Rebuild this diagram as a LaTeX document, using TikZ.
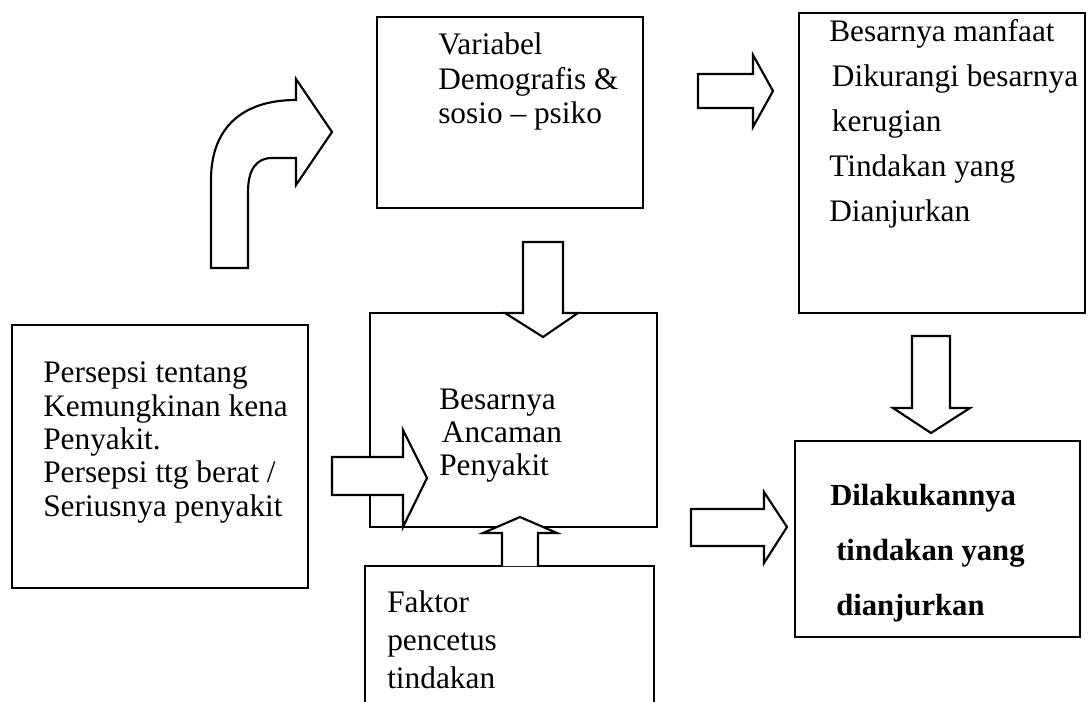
\documentclass[tikz,border=0pt]{standalone}
\usepackage{fontspec}
\setmainfont{Liberation Serif}
\usetikzlibrary{fit}
\begin{document}
\begin{tikzpicture}[x=0.75pt,y=-0.75pt,
  box/.style={draw, line width=1.6pt, inner sep=0pt, outer sep=0pt},
  heavybox/.style={box, line width=2.2pt},
  label/.style={anchor=base west, inner sep=0pt, align=left},
  blockarrow/.style={draw, fill=white, line width=1.6pt, line join=miter},
]
\useasboundingbox (0,0) rectangle (1088,702);
\fill[white] (0,0) rectangle (1088,702);

% boxes of the model
\node[box, fit={(377,17) (643,208)}] (var) {};
\node[box, fit={(799,13) (1085,313)}] (manfaat) {};
\node[box, fit={(12,325) (308,588)}] (persepsi) {};
\node[heavybox, fit={(370,313) (657,527)}] (ancaman) {};
\node[box, fit={(365,566) (654,730)}] (faktor) {};
\node[heavybox, fit={(795,441) (1080,637)}] (aksi) {};

% texts inside the boxes (placed by the baseline of their last line)
\node[label, font={\fontsize{23.5}{25.9}\selectfont}] (vartext) at (438,124)
  {Variabel\\Demografis \&\\sosio – psiko};
\node[label, font={\fontsize{23.5}{33.75}\selectfont}] (manfaattext) at (829,222)
  {Besarnya manfaat\\\hspace{2pt}Dikurangi besarnya\\\hspace{2pt}kerugian\\Tindakan yang\\Dianjurkan};
\node[label, font={\fontsize{23.5}{25}\selectfont}] (persepsitext) at (43,516)
  {Persepsi tentang\\Kemungkinan kena\\Penyakit.\\Persepsi ttg berat /\\Seriusnya penyakit};
\node[label, font={\fontsize{23.5}{24.4}\selectfont}] (ancamantext) at (439,475)
  {Besarnya\\\hspace{2pt}Ancaman\\Penyakit};
\node[label, font={\fontsize{23.5}{28.5}\selectfont}] (faktortext) at (387,688)
  {Faktor\\pencetus\\tindakan};
\node[label, font={\fontsize{23}{40.9}\selectfont\bfseries}] (aksitext) at (830,615)
  {Dilakukannya\\\hspace{4.5pt}tindakan yang\\\hspace{4.5pt}dianjurkan};

% curved block arrow rising towards the demographic box
\draw[blockarrow] (211,268) -- (211,180) .. controls (211,128) and (242,100) .. (296,100)
  -- (296,79) -- (332,132) -- (296,185) -- (296,158) -- (272,158)
  .. controls (256,158) and (248,170) .. (248,192) -- (248,268) -- cycle;

% var -> manfaat
\draw[blockarrow] (698,74) -- (753,74) -- (753,55) -- (773,91) -- (753,127)
  -- (753,108) -- (698,108) -- cycle;

% var -> ancaman
\draw[blockarrow] (523,242) -- (563,242) -- (563,313) -- (578,313) -- (543,337)
  -- (505,313) -- (523,313) -- cycle;

% persepsi -> ancaman
\draw[blockarrow] (332,457) -- (403,457) -- (403,430) -- (427,478) -- (403,527)
  -- (403,495) -- (332,495) -- cycle;

% faktor -> ancaman
\draw[blockarrow] (502,566) -- (502,533) -- (483,533) -- (520,517) -- (557,533)
  -- (538,533) -- (538,566);

% ancaman -> aksi
\draw[blockarrow] (691,509) -- (764,509) -- (764,492) -- (787,527) -- (764,563)
  -- (764,546) -- (691,546) -- cycle;

% manfaat -> aksi
\draw[blockarrow] (912,336) -- (950,336) -- (950,408) -- (970,408) -- (931,433)
  -- (893,408) -- (912,408) -- cycle;
\end{tikzpicture}
\end{document}
